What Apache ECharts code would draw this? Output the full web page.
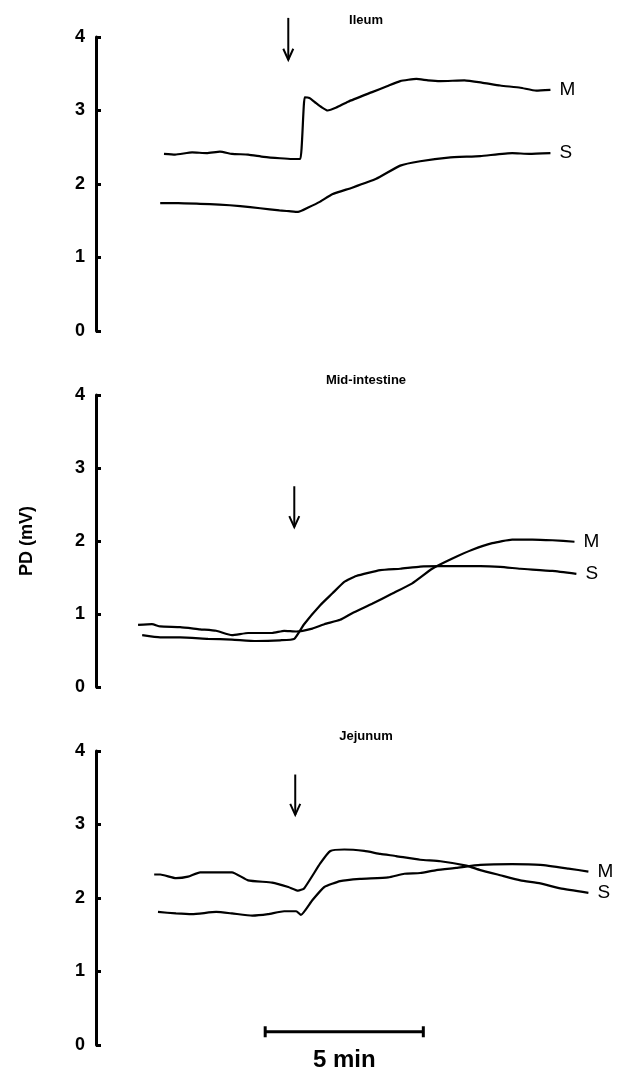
<!DOCTYPE html>
<html>
<head>
<meta charset="utf-8" />
<title>PD traces</title>
<script src="https://cdn.jsdelivr.net/npm/echarts@6.0.0/dist/echarts.min.js"></script>
<style>
    html, body { margin: 0; padding: 0; background: #fff; }
    #main { width: 619px; height: 1068px; }
</style>
</head>
<body>
<div id="main"></div>
<script type="text/javascript">
// time in minutes, PD in mV
var ileumM = [[2.15,2.41],[2.5,2.40],[3.04,2.43],[3.5,2.42],[3.92,2.44],[4.3,2.41],[4.81,2.40],[5.3,2.37],
    [5.82,2.35],[6.2,2.34],[6.46,2.34],[6.6,3.18],[6.75,3.17],[6.96,3.10],[7.15,3.04],[7.32,3.00],[7.6,3.04],
    [7.97,3.12],[8.73,3.25],[9.2,3.33],[9.62,3.40],[10.13,3.43],[10.5,3.41],[10.89,3.40],[11.65,3.41],
    [12.2,3.38],[12.78,3.34],[13.42,3.31],[13.92,3.27],[14.37,3.28]];
var ileumS = [[2.03,1.74],[2.6,1.74],[3.29,1.73],[3.9,1.72],[4.56,1.70],[5.19,1.67],[5.8,1.64],[6.1,1.63],
    [6.39,1.62],[6.71,1.68],[7.09,1.76],[7.47,1.86],[8.10,1.95],[8.86,2.07],[9.62,2.25],[10.25,2.31],
    [11.14,2.36],[12.15,2.38],[13.16,2.42],[13.7,2.41],[14.37,2.42]];

var midM = [[1.33,0.85],[1.77,0.86],[2.03,0.83],[2.66,0.82],[3.29,0.79],[3.80,0.77],[4.30,0.71],[4.81,0.74],
    [5.57,0.74],[5.95,0.77],[6.33,0.76],[6.84,0.80],[7.22,0.86],[7.72,0.92],[8.10,1.01],[8.73,1.14],
    [9.37,1.28],[10.0,1.42],[10.63,1.62],[11.27,1.76],[11.90,1.88],[12.53,1.97],[13.16,2.02],[13.80,2.02],
    [14.43,2.01],[15.13,1.99]];
var midS = [[1.46,0.71],[2.03,0.68],[2.66,0.68],[3.54,0.66],[4.30,0.65],[5.06,0.63],[5.82,0.64],[6.27,0.66],
    [6.58,0.86],[7.09,1.12],[7.47,1.28],[7.85,1.44],[8.23,1.52],[8.99,1.60],[9.62,1.62],[10.25,1.65],
    [10.89,1.655],[12.15,1.655],[12.78,1.645],[13.42,1.62],[14.43,1.59],[15.19,1.55]];

var jejM = [[1.96,1.81],[2.53,1.79],[3.04,1.78],[3.80,1.81],[4.30,1.79],[4.94,1.76],[5.44,1.78],[5.95,1.82],
    [6.33,1.82],[6.48,1.77],[6.84,1.97],[7.22,2.15],[7.72,2.23],[8.35,2.26],[9.24,2.28],[9.75,2.33],
    [10.25,2.34],[10.76,2.38],[11.39,2.41],[12.15,2.45],[13.16,2.46],[14.05,2.45],[14.94,2.40],[15.57,2.36]];
var jejS = [[1.84,2.32],[2.03,2.32],[2.53,2.27],[2.91,2.29],[3.29,2.35],[3.80,2.35],[4.30,2.35],[4.81,2.24],
    [5.57,2.21],[6.08,2.15],[6.39,2.10],[6.58,2.13],[7.09,2.47],[7.41,2.64],[7.85,2.66],[8.48,2.64],
    [8.99,2.60],[9.49,2.57],[10.25,2.52],[10.89,2.50],[11.71,2.44],[12.15,2.38],[12.78,2.31],[13.42,2.24],
    [14.05,2.20],[14.68,2.13],[15.57,2.07]];

var panelTitles = ['Ileum', 'Mid-intestine', 'Jejunum'];
var yMin = 0, yMax = 4, yStep = 1;
var xMin = 0, xMax = 16;

// arrow (time of addition) per panel, start and tip level in mV
var arrowTime = [6.08, 6.27, 6.30];
var arrowTop = [4.26, 2.75, 3.68];
var arrowTip = [3.69, 2.19, 3.13];

// 5 min scale bar drawn in the jejunum panel
var scaleBarX = [5.35, 7.85, 10.35];
var scaleBarLevel = 0.18;
var scaleBarText = '5 min';

var FONT = 'Liberation Sans, Arial, sans-serif';
var chart = echarts.init(document.getElementById('main'));

var gridTops = [37, 395, 751];
var gridHeights = [294, 292, 294];

var grids = [], xAxes = [], yAxes = [];
for (var i = 0; i < 3; i++) {
    grids.push({ left: 96, right: 17, top: gridTops[i], height: gridHeights[i] });
    xAxes.push({ type: 'value', gridIndex: i, min: xMin, max: xMax, show: false });
    yAxes.push({
        type: 'value', gridIndex: i, min: yMin, max: yMax, interval: yStep,
        name: i === 1 ? 'PD (mV)' : '',
        nameLocation: 'middle',
        nameGap: 60,
        nameTextStyle: { fontFamily: FONT, fontWeight: 'bold', fontSize: 18, color: '#000' },
        axisLine: { show: true, lineStyle: { color: '#000', width: 3 } },
        axisTick: { show: true, inside: true, length: 5, lineStyle: { color: '#000', width: 3 } },
        axisLabel: { fontFamily: FONT, fontWeight: 'bold', fontSize: 18, color: '#000', margin: 11 },
        splitLine: { show: false }
    });
}

function trace(name, data, idx) {
    return {
        name: name, type: 'line', xAxisIndex: idx, yAxisIndex: idx,
        data: data, showSymbol: false, symbol: 'none', smooth: 0.15,
        lineStyle: { color: '#000', width: 2.2 },
        endLabel: { show: true, formatter: name, distance: 9,
            fontFamily: FONT, fontSize: 19, color: '#000' },
        silent: true
    };
}

var series = [
    trace('M', ileumM, 0), trace('S', ileumS, 0),
    trace('M', midM, 1), trace('S', midS, 1),
    trace('M', jejM, 2), trace('S', jejS, 2),
    {
        type: 'line', xAxisIndex: 2, yAxisIndex: 2, silent: true,
        lineStyle: { color: '#000', width: 3 },
        itemStyle: { color: '#000' },
        symbol: 'rect', symbolSize: [3, 11], showSymbol: true,
        data: scaleBarX.map(function (x, k) {
            if (k === 1) {
                return {
                    value: [x, scaleBarLevel], symbolSize: [0, 0],
                    label: { show: true, position: 'bottom', distance: 17, formatter: scaleBarText,
                        fontFamily: FONT, fontWeight: 'bold', fontSize: 24, color: '#000' }
                };
            }
            return { value: [x, scaleBarLevel] };
        })
    }
];

chart.setOption({
    animation: false,
    backgroundColor: '#fff',
    grid: grids,
    xAxis: xAxes,
    yAxis: yAxes,
    series: series
});

var titleY = [20, 380, 736];
var graphics = panelTitles.map(function (t, i) {
    return {
        type: 'text', x: 366, y: titleY[i],
        style: { text: t, font: 'bold 13px ' + FONT, fill: '#000', textAlign: 'center', textVerticalAlign: 'middle' }
    };
});
arrowTime.forEach(function (t, i) {
    var p0 = chart.convertToPixel({ gridIndex: i }, [t, arrowTop[i]]);
    var p1 = chart.convertToPixel({ gridIndex: i }, [t, arrowTip[i]]);
    graphics.push({
        type: 'group',
        children: [
            { type: 'line', shape: { x1: p0[0], y1: p0[1], x2: p1[0], y2: p1[1] },
              style: { stroke: '#000', lineWidth: 2 } },
            { type: 'polyline', shape: { points: [[p1[0] - 5, p1[1] - 11], [p1[0], p1[1]], [p1[0] + 5, p1[1] - 11]] },
              style: { stroke: '#000', lineWidth: 2, fill: null } }
        ]
    });
});
chart.setOption({ graphic: graphics });
</script>
</body>
</html>
